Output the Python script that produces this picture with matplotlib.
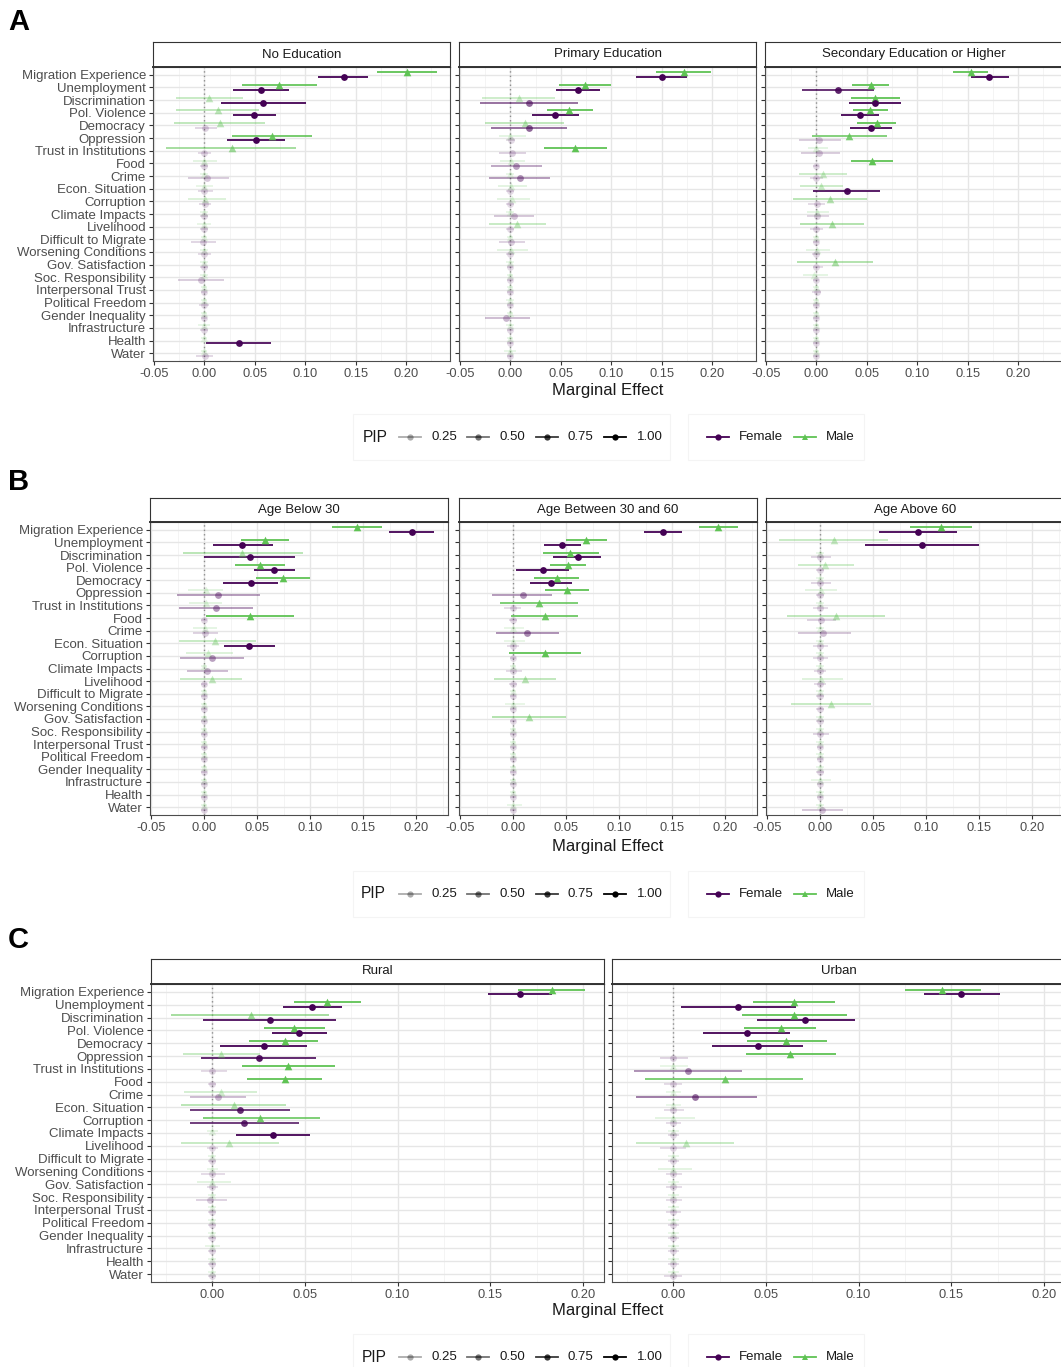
import matplotlib
matplotlib.use('Agg')
import matplotlib.pyplot as plt
from matplotlib.patches import Rectangle
from matplotlib.lines import Line2D

plt.rcParams['font.family'] = ['Liberation Sans', 'DejaVu Sans']
plt.rcParams['axes.unicode_minus'] = False

# ---------------- data ----------------
categories = ["Migration Experience", "Unemployment", "Discrimination", "Pol. Violence",
              "Democracy", "Oppression", "Trust in Institutions", "Food", "Crime",
              "Econ. Situation", "Corruption", "Climate Impacts", "Livelihood",
              "Difficult to Migrate", "Worsening Conditions", "Gov. Satisfaction",
              "Soc. Responsibility", "Interpersonal Trust", "Political Freedom",
              "Gender Inequality", "Infrastructure", "Health", "Water"]

# Panel A - No Education
noed_f_est = [0.138, 0.056, 0.058, 0.049, 0.001, 0.051, 0.000, 0.000, 0.003, 0.000, 0.001, 0.000, 0.000, -0.001, 0.000, 0.000, -0.003, 0.000, 0.000, 0.000, 0.000, 0.034, 0.001]
noed_f_lo = [0.113, 0.028, 0.016, 0.028, -0.009, 0.022, -0.006, -0.004, -0.016, -0.006, -0.005, -0.004, -0.004, -0.013, -0.006, -0.004, -0.026, -0.003, -0.005, -0.003, -0.004, 0.002, -0.008]
noed_f_hi = [0.162, 0.084, 0.101, 0.071, 0.012, 0.080, 0.007, 0.004, 0.024, 0.008, 0.007, 0.004, 0.004, 0.011, 0.007, 0.004, 0.019, 0.003, 0.005, 0.003, 0.004, 0.066, 0.008]
noed_f_pip = [1.0, 1.0, 1.0, 1.0, 0.08, 1.0, 0.06, 0.05, 0.12, 0.06, 0.06, 0.05, 0.05, 0.08, 0.06, 0.05, 0.12, 0.04, 0.05, 0.04, 0.04, 0.95, 0.07]
noed_m_est = [0.201, 0.074, 0.005, 0.013, 0.015, 0.067, 0.027, 0.000, 0.000, 0.000, 0.001, 0.000, 0.000, 0.000, 0.000, 0.000, 0.000, 0.000, 0.000, 0.000, 0.000, 0.000, 0.000]
noed_m_lo = [0.171, 0.037, -0.028, -0.028, -0.030, 0.027, -0.038, -0.011, -0.004, -0.008, -0.016, -0.004, -0.007, -0.003, -0.004, -0.004, -0.004, -0.003, -0.003, -0.003, -0.006, -0.003, -0.003]
noed_m_hi = [0.231, 0.112, 0.038, 0.054, 0.060, 0.107, 0.091, 0.012, 0.004, 0.008, 0.021, 0.004, 0.007, 0.003, 0.004, 0.004, 0.004, 0.003, 0.003, 0.003, 0.006, 0.003, 0.003]
noed_m_pip = [1.0, 0.95, 0.3, 0.35, 0.35, 0.9, 0.55, 0.1, 0.04, 0.06, 0.15, 0.04, 0.06, 0.04, 0.04, 0.04, 0.04, 0.04, 0.04, 0.04, 0.05, 0.04, 0.04]

# Panel A - Primary Education
prim_f_est = [0.150, 0.067, 0.018, 0.044, 0.018, 0.001, 0.002, 0.006, 0.009, 0.000, 0.000, 0.004, 0.000, 0.001, 0.000, 0.000, 0.000, 0.000, 0.000, -0.004, 0.000, 0.000, 0.000]
prim_f_lo = [0.125, 0.045, -0.030, 0.021, -0.019, -0.004, -0.011, -0.019, -0.021, -0.004, -0.004, -0.016, -0.004, -0.011, -0.004, -0.003, -0.003, -0.003, -0.003, -0.025, -0.003, -0.003, -0.003]
prim_f_hi = [0.175, 0.089, 0.067, 0.068, 0.056, 0.005, 0.015, 0.031, 0.039, 0.004, 0.004, 0.023, 0.004, 0.014, 0.004, 0.003, 0.003, 0.003, 0.003, 0.019, 0.003, 0.003, 0.003]
prim_f_pip = [1.0, 1.0, 0.55, 1.0, 0.55, 0.05, 0.1, 0.3, 0.35, 0.04, 0.04, 0.15, 0.04, 0.1, 0.04, 0.04, 0.04, 0.04, 0.04, 0.2, 0.04, 0.04, 0.05]
prim_m_est = [0.172, 0.074, 0.008, 0.058, 0.014, 0.000, 0.064, 0.001, 0.000, 0.001, 0.002, 0.000, 0.007, 0.000, 0.001, 0.000, 0.000, 0.000, 0.000, 0.000, 0.000, 0.000, 0.000]
prim_m_lo = [0.144, 0.048, -0.028, 0.036, -0.025, -0.011, 0.033, -0.010, -0.004, -0.012, -0.013, -0.004, -0.021, -0.003, -0.013, -0.004, -0.003, -0.003, -0.004, -0.003, -0.004, -0.003, -0.006]
prim_m_hi = [0.199, 0.100, 0.044, 0.082, 0.053, 0.015, 0.096, 0.014, 0.004, 0.016, 0.019, 0.004, 0.035, 0.003, 0.017, 0.004, 0.003, 0.003, 0.004, 0.003, 0.004, 0.003, 0.006]
prim_m_pip = [1.0, 1.0, 0.25, 1.0, 0.35, 0.08, 1.0, 0.08, 0.04, 0.1, 0.1, 0.04, 0.3, 0.04, 0.1, 0.04, 0.04, 0.04, 0.04, 0.04, 0.04, 0.04, 0.05]

# Panel A - Secondary Education or Higher
sec_f_est = [0.171, 0.021, 0.058, 0.043, 0.054, 0.003, 0.003, 0.000, 0.000, 0.030, 0.001, 0.001, 0.000, 0.000, 0.000, 0.000, 0.000, 0.001, 0.000, 0.000, 0.000, 0.000, 0.000]
sec_f_lo = [0.153, -0.014, 0.032, 0.024, 0.033, -0.017, -0.015, -0.003, -0.006, -0.003, -0.008, -0.009, -0.006, -0.003, -0.004, -0.003, -0.003, -0.004, -0.003, -0.003, -0.003, -0.003, -0.003]
sec_f_hi = [0.191, 0.057, 0.084, 0.062, 0.075, 0.024, 0.023, 0.003, 0.007, 0.063, 0.008, 0.012, 0.007, 0.003, 0.004, 0.007, 0.003, 0.005, 0.003, 0.003, 0.003, 0.003, 0.003]
sec_f_pip = [1.0, 0.85, 1.0, 1.0, 1.0, 0.12, 0.12, 0.04, 0.06, 0.95, 0.06, 0.08, 0.06, 0.04, 0.05, 0.05, 0.04, 0.05, 0.04, 0.04, 0.04, 0.04, 0.04]
sec_m_est = [0.153, 0.054, 0.058, 0.053, 0.060, 0.032, 0.000, 0.055, 0.007, 0.005, 0.013, 0.001, 0.015, 0.000, 0.001, 0.018, -0.002, 0.000, 0.000, 0.000, 0.000, 0.000, 0.000]
sec_m_lo = [0.135, 0.035, 0.034, 0.036, 0.040, -0.004, -0.008, 0.034, -0.017, -0.016, -0.023, -0.009, -0.016, -0.003, -0.010, -0.019, -0.013, -0.003, -0.003, -0.003, -0.003, -0.003, -0.003]
sec_m_hi = [0.170, 0.072, 0.083, 0.071, 0.079, 0.070, 0.011, 0.076, 0.030, 0.026, 0.050, 0.012, 0.047, 0.003, 0.013, 0.056, 0.011, 0.003, 0.003, 0.003, 0.003, 0.003, 0.003]
sec_m_pip = [1.0, 1.0, 1.0, 1.0, 1.0, 0.8, 0.08, 1.0, 0.25, 0.25, 0.4, 0.08, 0.45, 0.04, 0.08, 0.45, 0.08, 0.04, 0.04, 0.04, 0.04, 0.04, 0.04]

# Panel B - Age Below 30
young_f_est = [0.196, 0.036, 0.043, 0.066, 0.044, 0.013, 0.011, 0.000, 0.001, 0.042, 0.007, 0.003, 0.000, 0.000, 0.000, 0.000, 0.000, 0.000, 0.000, 0.000, 0.000, 0.000, 0.000]
young_f_lo = [0.174, 0.008, 0.000, 0.047, 0.018, -0.026, -0.024, -0.003, -0.010, 0.019, -0.023, -0.016, -0.003, -0.003, -0.003, -0.003, -0.003, -0.003, -0.003, -0.003, -0.003, -0.003, -0.003]
young_f_hi = [0.217, 0.065, 0.086, 0.086, 0.070, 0.053, 0.046, 0.003, 0.013, 0.067, 0.038, 0.023, 0.003, 0.003, 0.003, 0.003, 0.003, 0.003, 0.003, 0.003, 0.003, 0.003, 0.003]
young_f_pip = [1.0, 1.0, 0.95, 1.0, 1.0, 0.35, 0.35, 0.05, 0.1, 1.0, 0.3, 0.2, 0.06, 0.05, 0.05, 0.05, 0.05, 0.05, 0.05, 0.05, 0.05, 0.05, 0.06]
young_m_est = [0.144, 0.057, 0.036, 0.053, 0.074, 0.002, 0.002, 0.043, 0.001, 0.010, 0.004, 0.000, 0.007, 0.000, 0.000, 0.000, 0.000, 0.000, 0.000, 0.000, 0.000, 0.000, 0.000]
young_m_lo = [0.121, 0.035, -0.020, 0.029, 0.049, -0.015, -0.014, 0.002, -0.010, -0.024, -0.017, -0.003, -0.023, -0.003, -0.003, -0.003, -0.003, -0.003, -0.003, -0.003, -0.003, -0.003, -0.003]
young_m_hi = [0.168, 0.080, 0.093, 0.076, 0.100, 0.018, 0.017, 0.085, 0.012, 0.049, 0.027, 0.003, 0.036, 0.003, 0.003, 0.003, 0.003, 0.003, 0.003, 0.003, 0.003, 0.003, 0.003]
young_m_pip = [1.0, 1.0, 0.4, 1.0, 1.0, 0.1, 0.1, 1.0, 0.08, 0.3, 0.15, 0.04, 0.3, 0.04, 0.04, 0.04, 0.04, 0.04, 0.04, 0.04, 0.04, 0.04, 0.05]

# Panel B - Age Between 30 and 60
mid_f_est = [0.141, 0.046, 0.061, 0.028, 0.036, 0.009, 0.000, 0.000, 0.013, 0.000, 0.000, 0.000, 0.000, 0.000, 0.000, 0.000, 0.000, 0.000, 0.000, 0.000, 0.000, 0.000, 0.000]
mid_f_lo = [0.123, 0.029, 0.038, 0.003, 0.016, -0.020, -0.009, -0.004, -0.016, -0.006, -0.003, -0.007, -0.004, -0.003, -0.003, -0.003, -0.003, -0.003, -0.003, -0.003, -0.003, -0.003, -0.003]
mid_f_hi = [0.159, 0.064, 0.083, 0.053, 0.056, 0.037, 0.007, 0.004, 0.043, 0.006, 0.003, 0.008, 0.004, 0.003, 0.003, 0.003, 0.003, 0.003, 0.003, 0.003, 0.003, 0.003, 0.003]
mid_f_pip = [1.0, 1.0, 1.0, 1.0, 1.0, 0.35, 0.06, 0.05, 0.4, 0.05, 0.04, 0.05, 0.04, 0.04, 0.04, 0.04, 0.04, 0.04, 0.04, 0.04, 0.04, 0.04, 0.05]
mid_m_est = [0.193, 0.069, 0.054, 0.052, 0.041, 0.051, 0.024, 0.030, 0.000, 0.000, 0.030, 0.000, 0.011, 0.000, 0.000, 0.015, 0.000, 0.000, 0.000, 0.000, 0.000, 0.000, 0.000]
mid_m_lo = [0.175, 0.050, 0.028, 0.035, 0.020, 0.030, -0.012, -0.002, -0.009, -0.009, -0.004, -0.003, -0.018, -0.003, -0.008, -0.020, -0.003, -0.003, -0.003, -0.003, -0.003, -0.003, -0.006]
mid_m_hi = [0.212, 0.089, 0.081, 0.069, 0.062, 0.072, 0.061, 0.061, 0.010, 0.011, 0.064, 0.003, 0.040, 0.003, 0.011, 0.050, 0.003, 0.003, 0.003, 0.003, 0.003, 0.003, 0.008]
mid_m_pip = [1.0, 1.0, 1.0, 1.0, 1.0, 1.0, 0.85, 0.9, 0.06, 0.06, 1.0, 0.04, 0.35, 0.04, 0.06, 0.45, 0.04, 0.04, 0.04, 0.04, 0.04, 0.04, 0.05]

# Panel B - Age Above 60
old_f_est = [0.092, 0.096, 0.000, 0.000, 0.000, 0.000, 0.000, 0.001, 0.003, 0.000, 0.000, 0.000, 0.000, 0.000, 0.000, 0.000, 0.000, 0.000, 0.000, 0.000, 0.000, 0.000, 0.002]
old_f_lo = [0.056, 0.042, -0.009, -0.004, -0.009, -0.004, -0.007, -0.012, -0.021, -0.007, -0.007, -0.006, -0.006, -0.004, -0.004, -0.004, -0.007, -0.003, -0.003, -0.004, -0.003, -0.003, -0.017]
old_f_hi = [0.129, 0.150, 0.010, 0.004, 0.010, 0.004, 0.007, 0.015, 0.029, 0.007, 0.007, 0.006, 0.006, 0.004, 0.004, 0.004, 0.008, 0.003, 0.003, 0.004, 0.003, 0.003, 0.022]
old_f_pip = [1.0, 1.0, 0.08, 0.05, 0.08, 0.05, 0.06, 0.1, 0.15, 0.06, 0.06, 0.06, 0.06, 0.05, 0.05, 0.05, 0.08, 0.04, 0.04, 0.05, 0.04, 0.04, 0.15]
old_m_est = [0.114, 0.013, 0.000, 0.005, 0.000, 0.001, 0.000, 0.015, 0.000, 0.000, 0.000, 0.000, 0.001, 0.000, 0.010, 0.000, 0.000, 0.000, 0.000, 0.000, 0.000, 0.000, 0.000]
old_m_lo = [0.085, -0.039, -0.004, -0.021, -0.004, -0.014, -0.004, -0.031, -0.004, -0.004, -0.004, -0.004, -0.017, -0.004, -0.027, -0.004, -0.004, -0.004, -0.004, -0.004, -0.009, -0.004, -0.004]
old_m_hi = [0.143, 0.064, 0.004, 0.032, 0.004, 0.016, 0.004, 0.061, 0.004, 0.004, 0.004, 0.004, 0.022, 0.004, 0.048, 0.004, 0.004, 0.004, 0.004, 0.004, 0.010, 0.004, 0.004]
old_m_pip = [1.0, 0.3, 0.04, 0.25, 0.04, 0.1, 0.04, 0.35, 0.04, 0.04, 0.04, 0.04, 0.12, 0.04, 0.3, 0.04, 0.04, 0.04, 0.04, 0.04, 0.06, 0.04, 0.04]

# Panel C - Rural
rural_f_est = [0.166, 0.054, 0.031, 0.047, 0.028, 0.025, 0.000, 0.000, 0.003, 0.015, 0.017, 0.033, 0.000, 0.000, 0.000, 0.000, -0.001, 0.000, 0.000, 0.000, 0.000, 0.000, 0.000]
rural_f_lo = [0.149, 0.038, -0.005, 0.032, 0.004, -0.006, -0.006, -0.002, -0.012, -0.012, -0.012, 0.013, -0.003, -0.002, -0.006, -0.003, -0.009, -0.002, -0.002, -0.002, -0.002, -0.002, -0.002]
rural_f_hi = [0.183, 0.070, 0.067, 0.062, 0.051, 0.056, 0.008, 0.002, 0.018, 0.042, 0.047, 0.053, 0.003, 0.002, 0.007, 0.003, 0.008, 0.002, 0.002, 0.002, 0.002, 0.002, 0.002]
rural_f_pip = [1.0, 1.0, 0.95, 1.0, 1.0, 0.9, 0.06, 0.04, 0.2, 0.8, 0.8, 1.0, 0.04, 0.04, 0.06, 0.04, 0.1, 0.04, 0.04, 0.04, 0.04, 0.04, 0.04]
rural_m_est = [0.183, 0.062, 0.021, 0.044, 0.039, 0.005, 0.041, 0.039, 0.005, 0.012, 0.026, 0.000, 0.009, 0.000, 0.000, 0.000, 0.000, 0.000, 0.000, 0.000, 0.000, 0.000, 0.000]
rural_m_lo = [0.165, 0.044, -0.022, 0.028, 0.020, -0.016, 0.016, 0.019, -0.015, -0.017, -0.005, -0.003, -0.017, -0.002, -0.003, -0.008, -0.002, -0.002, -0.002, -0.002, -0.004, -0.002, -0.002]
rural_m_hi = [0.201, 0.080, 0.063, 0.061, 0.057, 0.026, 0.066, 0.059, 0.024, 0.040, 0.058, 0.003, 0.036, 0.002, 0.003, 0.010, 0.002, 0.002, 0.002, 0.002, 0.004, 0.002, 0.002]
rural_m_pip = [1.0, 1.0, 0.55, 1.0, 1.0, 0.3, 1.0, 1.0, 0.2, 0.4, 0.85, 0.06, 0.3, 0.04, 0.04, 0.1, 0.04, 0.04, 0.04, 0.04, 0.06, 0.04, 0.04]

# Panel C - Urban
urban_f_est = [0.155, 0.035, 0.071, 0.040, 0.046, 0.000, 0.008, 0.000, 0.012, 0.000, 0.000, 0.000, 0.000, 0.000, 0.000, 0.000, 0.000, 0.000, 0.000, 0.000, 0.000, 0.000, 0.000]
urban_f_lo = [0.135, 0.004, 0.045, 0.016, 0.021, -0.007, -0.021, -0.005, -0.020, -0.005, -0.004, -0.003, -0.007, -0.003, -0.004, -0.004, -0.004, -0.004, -0.003, -0.003, -0.003, -0.003, -0.005]
urban_f_hi = [0.176, 0.066, 0.098, 0.063, 0.070, 0.008, 0.037, 0.005, 0.045, 0.006, 0.004, 0.003, 0.007, 0.003, 0.005, 0.005, 0.005, 0.004, 0.003, 0.003, 0.003, 0.003, 0.005]
urban_f_pip = [1.0, 1.0, 1.0, 1.0, 1.0, 0.08, 0.4, 0.05, 0.5, 0.06, 0.05, 0.05, 0.06, 0.04, 0.05, 0.05, 0.05, 0.05, 0.04, 0.04, 0.04, 0.04, 0.06]
urban_m_est = [0.145, 0.065, 0.065, 0.058, 0.061, 0.063, 0.000, 0.028, 0.000, 0.000, 0.000, 0.000, 0.007, 0.000, 0.000, 0.000, 0.000, 0.000, 0.000, 0.000, 0.000, 0.000, 0.000]
urban_m_lo = [0.125, 0.043, 0.037, 0.038, 0.040, 0.039, -0.007, -0.015, -0.004, -0.004, -0.010, -0.003, -0.020, -0.003, -0.008, -0.003, -0.003, -0.003, -0.003, -0.003, -0.003, -0.003, -0.003]
urban_m_hi = [0.166, 0.087, 0.094, 0.077, 0.083, 0.088, 0.008, 0.070, 0.004, 0.004, 0.012, 0.003, 0.033, 0.003, 0.010, 0.003, 0.003, 0.003, 0.003, 0.003, 0.003, 0.003, 0.003]
urban_m_pip = [1.0, 1.0, 1.0, 1.0, 1.0, 1.0, 0.06, 0.85, 0.04, 0.04, 0.1, 0.04, 0.3, 0.04, 0.1, 0.04, 0.04, 0.04, 0.04, 0.04, 0.04, 0.04, 0.04]

pip_legend_values = [0.25, 0.50, 0.75, 1.00]
sex_labels = ["Female", "Male"]

# ---------------- style ----------------
FEMALE = '#440154'
MALE = '#5FC354'
W, H = 1061, 1367
fig = plt.figure(figsize=(W / 100, H / 100), dpi=100)
TXT = '#4d4d4d'
BORDER = '#4d4d4d'


def rect(l, t, r, b):
    return [l / W, 1 - b / H, (r - l) / W, (b - t) / H]


def alpha_of(p):
    return 0.1 + 0.9 * p


def draw_series(ax, est, lo, hi, pip, color, marker, offset, size):
    n = len(est)
    for i in range(n):
        a = alpha_of(pip[i])
        y = i + offset
        ax.plot([lo[i], hi[i]], [y, y], color=color, alpha=a, lw=1.3,
                solid_capstyle='butt', zorder=3)
        ax.scatter([est[i]], [y], s=size, marker=marker, color=color, alpha=a,
                   linewidths=0, zorder=4)


def draw_panel(l, t, r, b, strip_top, title, xlim, xticks, fdata, mdata, show_y):
    ax = fig.add_axes(rect(l, t, r, b))
    n = len(categories)
    ax.set_xlim(*xlim)
    ax.set_ylim(n - 1 + 0.62, -0.62)
    major = [-0.05, 0.0, 0.05, 0.10, 0.15, 0.20]
    minor = [-0.025, 0.025, 0.075, 0.125, 0.175, 0.225]
    for x in minor:
        ax.axvline(x, color='#f3f3f3', lw=0.6, zorder=0)
    for x in major:
        ax.axvline(x, color='#e6e6e6', lw=1.0, zorder=0)
    for i in range(n):
        ax.axhline(i, color='#e6e6e6', lw=1.0, zorder=0)
    ax.axvline(0, color='#8c8c8c', lw=1.0, ls=(0, (1, 2.2)), zorder=1)
    draw_series(ax, *mdata, MALE, '^', -0.19, 30)
    draw_series(ax, *fdata, FEMALE, 'o', 0.19, 24)
    ax.set_xticks(xticks)
    ax.set_xticklabels(['%.2f' % v for v in xticks])
    ax.set_yticks(range(n))
    if show_y:
        ax.set_yticklabels(categories)
    else:
        ax.set_yticklabels([])
        ax.tick_params(axis='y', length=0)
    ax.tick_params(axis='both', labelsize=9.3, colors='#333333', labelcolor=TXT,
                   length=3, width=0.8, pad=2)
    ax.tick_params(axis='y', labelsize=9.5)
    for s in ax.spines.values():
        s.set_color(BORDER)
        s.set_linewidth(0.8)
    # strip
    sax = fig.add_axes(rect(l, strip_top, r, t))
    sax.set_xticks([])
    sax.set_yticks([])
    for s in sax.spines.values():
        s.set_color('#333333')
        s.set_linewidth(0.8)
    sax.spines['bottom'].set_linewidth(1.4)
    sax.text(0.5, 0.5, title, ha='center', va='center', fontsize=9.5,
             color='#1a1a1a', transform=sax.transAxes)
    return ax


# overlay for text / legends in pixel coordinates
ov = fig.add_axes([0, 0, 1, 1], zorder=10)
ov.set_xlim(0, W)
ov.set_ylim(H, 0)
ov.axis('off')


def draw_legend(y, pip_x, key_xs, lab_xs, sex_keys, sex_labs, box1, box2):
    ov.add_patch(Rectangle((box1[0], y - 23), box1[1] - box1[0], 46, fill=False,
                           edgecolor='#f4f4f4', lw=0.8))
    ov.add_patch(Rectangle((box2[0], y - 23), box2[1] - box2[0], 46, fill=False,
                           edgecolor='#f4f4f4', lw=0.8))
    ov.text(pip_x, y, 'PIP', fontsize=11.2, ha='left', va='center', color='#1a1a1a')
    for v, kx, lx in zip(pip_legend_values, key_xs, lab_xs):
        a = alpha_of(v)
        ov.add_line(Line2D([kx - 11, kx + 11], [y, y], color='black', alpha=a, lw=1.3))
        ov.plot([kx], [y], marker='o', color='black', alpha=a, markersize=4.5, mew=0)
        ov.text(lx, y, '%.2f' % v, fontsize=9.5, ha='left', va='center', color='#1a1a1a')
    for lab, kx, lx, col, mk in zip(sex_labels, sex_keys, sex_labs, [FEMALE, MALE], ['o', '^']):
        ov.add_line(Line2D([kx - 11, kx + 11], [y, y], color=col, lw=1.3))
        ov.plot([kx], [y], marker=mk, color=col, markersize=4.5, mew=0)
        ov.text(lx, y, lab, fontsize=9.5, ha='left', va='center', color='#1a1a1a')


xt_full = [-0.05, 0.0, 0.05, 0.10, 0.15, 0.20]
xt_c = [0.0, 0.05, 0.10, 0.15, 0.20]
pip_keys = [410, 478, 547, 615]
pip_labs = [431, 500, 568, 637]
sex_keys = [718, 805]
sex_labs = [739, 826]

# ---- Panel A ----
xlimA = (-0.051, 0.2435)
draw_panel(153, 67, 450, 361, 42, 'No Education', xlimA, xt_full,
           (noed_f_est, noed_f_lo, noed_f_hi, noed_f_pip),
           (noed_m_est, noed_m_lo, noed_m_hi, noed_m_pip), True)
draw_panel(459, 67, 756, 361, 42, 'Primary Education', xlimA, xt_full,
           (prim_f_est, prim_f_lo, prim_f_hi, prim_f_pip),
           (prim_m_est, prim_m_lo, prim_m_hi, prim_m_pip), False)
draw_panel(765, 67, 1062, 361, 42, 'Secondary Education or Higher', xlimA, xt_full,
           (sec_f_est, sec_f_lo, sec_f_hi, sec_f_pip),
           (sec_m_est, sec_m_lo, sec_m_hi, sec_m_pip), False)
ov.text(608, 390, 'Marginal Effect', fontsize=12, ha='center', va='center', color='#1a1a1a')
draw_legend(437, 363, pip_keys, pip_labs, sex_keys, sex_labs, (353, 670), (688, 864))

# ---- Panel B ----
xlimB = (-0.051, 0.230)
draw_panel(150, 522, 448, 815, 498, 'Age Below 30', xlimB, xt_full,
           (young_f_est, young_f_lo, young_f_hi, young_f_pip),
           (young_m_est, young_m_lo, young_m_hi, young_m_pip), True)
draw_panel(459, 522, 757, 815, 498, 'Age Between 30 and 60', xlimB, xt_full,
           (mid_f_est, mid_f_lo, mid_f_hi, mid_f_pip),
           (mid_m_est, mid_m_lo, mid_m_hi, mid_m_pip), False)
draw_panel(766, 522, 1064, 815, 498, 'Age Above 60', xlimB, xt_full,
           (old_f_est, old_f_lo, old_f_hi, old_f_pip),
           (old_m_est, old_m_lo, old_m_hi, old_m_pip), False)
ov.text(608, 846, 'Marginal Effect', fontsize=12, ha='center', va='center', color='#1a1a1a')
draw_legend(894, 361, pip_keys, pip_labs, sex_keys, sex_labs, (353, 670), (688, 864))

# ---- Panel C ----
xlimC = (-0.033, 0.2113)
draw_panel(151, 984, 604, 1282, 959, 'Rural', xlimC, xt_c,
           (rural_f_est, rural_f_lo, rural_f_hi, rural_f_pip),
           (rural_m_est, rural_m_lo, rural_m_hi, rural_m_pip), True)
draw_panel(612, 984, 1065, 1282, 959, 'Urban', xlimC, xt_c,
           (urban_f_est, urban_f_lo, urban_f_hi, urban_f_pip),
           (urban_m_est, urban_m_lo, urban_m_hi, urban_m_pip), False)
ov.text(608, 1310, 'Marginal Effect', fontsize=12, ha='center', va='center', color='#1a1a1a')
draw_legend(1357, 362, pip_keys, pip_labs, sex_keys, sex_labs, (353, 670), (688, 864))

# panel letters
for lab, y in [('A', 22), ('B', 482), ('C', 940)]:
    ov.text(8, y, lab, fontsize=21, fontweight='bold', ha='left', va='center', color='black')

fig.savefig('out.png', dpi=100, facecolor='white')
